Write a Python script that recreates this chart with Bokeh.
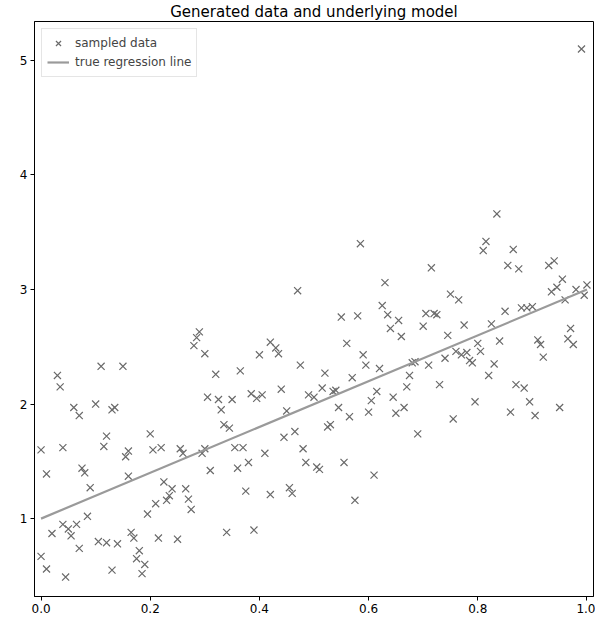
from bokeh.plotting import figure
from bokeh.models import FixedTicker, PrintfTickFormatter
from bokeh.embed import file_html
from bokeh.resources import INLINE

sample_x = [0.00, 0.01, 0.00, 0.01, 0.02, 0.03, 0.035, 0.04, 0.04, 0.045,
            0.05, 0.055, 0.06, 0.065, 0.07, 0.07, 0.075, 0.08, 0.085, 0.09,
            0.10, 0.105, 0.11, 0.115, 0.12, 0.12, 0.13, 0.135, 0.13, 0.14,
            0.15, 0.155, 0.16, 0.16, 0.165, 0.17, 0.175, 0.18, 0.185, 0.19,
            0.195, 0.20, 0.205, 0.21, 0.215, 0.22, 0.225, 0.23, 0.235, 0.24,
            0.25, 0.255, 0.26, 0.265, 0.27, 0.275, 0.28, 0.285, 0.29, 0.295,
            0.30, 0.30, 0.305, 0.31, 0.32, 0.325, 0.33, 0.335, 0.34, 0.345,
            0.35, 0.355, 0.36, 0.365, 0.37, 0.375, 0.38, 0.385, 0.39, 0.395,
            0.40, 0.405, 0.41, 0.42, 0.42, 0.43, 0.435, 0.44, 0.445, 0.45,
            0.455, 0.46, 0.465, 0.47, 0.475, 0.48, 0.485, 0.49, 0.50, 0.505,
            0.51, 0.515, 0.52, 0.525, 0.53, 0.535, 0.54, 0.545, 0.55, 0.555,
            0.56, 0.565, 0.57, 0.575, 0.58, 0.585, 0.59, 0.595, 0.60, 0.605,
            0.61, 0.615, 0.62, 0.625, 0.63, 0.635, 0.64, 0.645, 0.65, 0.655,
            0.66, 0.665, 0.67, 0.675, 0.68, 0.685, 0.69, 0.70, 0.705, 0.71,
            0.715, 0.72, 0.725, 0.73, 0.74, 0.745, 0.75, 0.755, 0.76, 0.765,
            0.77, 0.775, 0.78, 0.785, 0.79, 0.795, 0.80, 0.805, 0.81, 0.815,
            0.82, 0.825, 0.83, 0.835, 0.84, 0.85, 0.855, 0.86, 0.865, 0.87,
            0.875, 0.88, 0.885, 0.89, 0.895, 0.90, 0.905, 0.91, 0.915, 0.92,
            0.93, 0.935, 0.94, 0.945, 0.95, 0.955, 0.96, 0.965, 0.97, 0.975,
            0.98, 0.99, 0.995, 1.00]
sample_y = [1.60, 1.39, 0.67, 0.56, 0.87, 2.25, 2.15, 1.62, 0.95, 0.49,
            0.91, 0.85, 1.97, 0.95, 0.74, 1.90, 1.44, 1.40, 1.02, 1.27,
            2.00, 0.80, 2.33, 1.63, 1.72, 0.79, 1.95, 1.97, 0.55, 0.78,
            2.33, 1.54, 1.59, 1.37, 0.88, 0.83, 0.65, 0.72, 0.52, 0.60,
            1.04, 1.74, 1.60, 1.13, 0.83, 1.62, 1.32, 1.16, 1.20, 1.26,
            0.82, 1.61, 1.57, 1.26, 1.17, 1.08, 2.51, 2.58, 2.63, 1.57,
            1.61, 2.44, 2.06, 1.42, 2.26, 2.04, 1.95, 1.82, 0.88, 1.79,
            2.04, 1.62, 1.44, 2.29, 1.62, 1.24, 1.49, 2.09, 0.90, 2.05,
            2.43, 2.08, 1.57, 1.21, 2.54, 2.49, 2.44, 2.13, 1.71, 1.94,
            1.27, 1.22, 1.76, 2.99, 2.34, 1.61, 1.49, 2.08, 2.06, 1.45,
            1.43, 2.14, 2.27, 1.80, 1.82, 2.11, 2.12, 1.97, 2.76, 1.49,
            2.53, 1.89, 2.23, 1.16, 2.77, 3.40, 2.43, 2.34, 1.93, 2.03,
            1.38, 2.11, 2.31, 2.86, 3.06, 2.78, 2.66, 2.06, 1.92, 2.73,
            2.59, 1.97, 2.15, 2.25, 2.36, 2.37, 1.74, 2.68, 2.79, 2.34,
            3.19, 2.79, 2.78, 2.17, 2.40, 2.60, 2.96, 1.87, 2.46, 2.91,
            2.43, 2.69, 2.45, 2.38, 2.36, 2.02, 2.53, 2.46, 3.34, 3.42,
            2.25, 2.70, 2.35, 3.66, 2.55, 2.81, 3.21, 1.93, 3.35, 2.17,
            3.18, 2.84, 2.14, 2.84, 2.02, 2.85, 1.90, 2.56, 2.52, 2.41,
            3.21, 2.98, 3.25, 3.02, 1.97, 3.09, 2.91, 2.57, 2.66, 2.52,
            3.00, 5.10, 2.95, 3.04]

# true regression line endpoints
line_x = [0.0, 1.0]
line_y = [1.0, 3.0]

x_ticks = [0.0, 0.2, 0.4, 0.6, 0.8, 1.0]
y_ticks = [1, 2, 3, 4, 5]

p = figure(width=595, height=615, x_range=(-0.012, 1.012), y_range=(0.32, 5.34),
           output_backend="svg", toolbar_location=None,
           title="Generated data and underlying model",
           min_border_left=34, min_border_right=2, min_border_bottom=0, min_border_top=0)

p.title.text_font = "DejaVu Sans"
p.title.text_font_size = "15px"
p.title.text_font_style = "normal"
p.title.align = "center"
p.title.text_color = "#000000"
p.title.standoff = 1

p.scatter(sample_x, sample_y, marker="x", size=10, line_color="#6a6a6a", line_width=1.2,
          legend_label="sampled data")
p.line(line_x, line_y, line_width=2.2, line_color="#9a9a9a", legend_label="true regression line")

p.xgrid.visible = False
p.ygrid.visible = False
p.outline_line_color = "#000000"
p.outline_line_width = 1
p.outline_line_alpha = 1.0

for ax in (p.xaxis[0], p.yaxis[0]):
    ax.major_label_text_font = "DejaVu Sans"
    ax.major_label_text_font_size = "12px"
    ax.major_label_text_color = "#000000"
    ax.major_tick_in = 0
    ax.major_tick_out = 4
    ax.minor_tick_in = 0
    ax.minor_tick_out = 0
    ax.axis_line_color = "#000000"
    ax.major_tick_line_color = "#000000"
    ax.major_label_standoff = 3

p.xaxis[0].ticker = FixedTicker(ticks=x_ticks)
p.yaxis[0].ticker = FixedTicker(ticks=y_ticks)
p.xaxis[0].formatter = PrintfTickFormatter(format="%.1f")
p.yaxis[0].formatter = PrintfTickFormatter(format="%d")

p.legend.location = "top_left"
p.legend.label_text_font = "DejaVu Sans"
p.legend.label_text_font_size = "12px"
p.legend.border_line_color = "#cccccc"
p.legend.background_fill_alpha = 0.8
p.legend.margin = 7
p.legend.padding = 5
p.legend.spacing = 1
p.legend.glyph_width = 22
p.legend.glyph_height = 18
p.legend.label_standoff = 6
p.legend.label_height = 18

open("out.html", "w").write(file_html(p, INLINE))
